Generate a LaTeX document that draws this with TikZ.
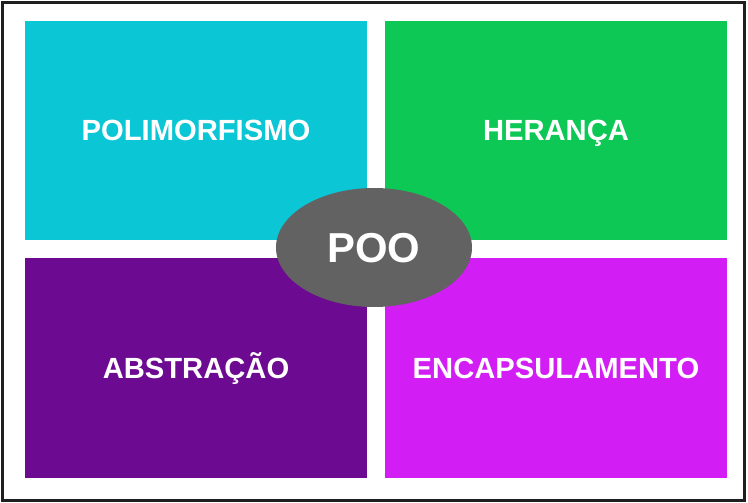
\documentclass[tikz,border=0pt]{standalone}
\usepackage{fontspec}
\setmainfont{Liberation Sans}
\usetikzlibrary{shapes.geometric}
\definecolor{ccyan}{RGB}{11,198,212}
\definecolor{cgreen}{RGB}{14,200,86}
\definecolor{cpurple}{RGB}{108,10,145}
\definecolor{cmagenta}{RGB}{210,30,245}
\definecolor{cgray}{RGB}{98,98,98}
\tikzset{
  quad/.style={draw=none, minimum width=342bp, minimum height=219bp, inner sep=0pt,
    text height=21bp, text depth=0pt,
    text=white, font=\fontsize{29.3}{32}\selectfont\bfseries},
}
\begin{document}
\begin{tikzpicture}[x=1bp,y=-1bp]
\useasboundingbox (0,0) rectangle (748,503);
\fill[white] (0,0) rectangle (748,503);
\draw[line width=3bp, draw=black!88] (2.5,2.5) rectangle (744.5,500);
\node[quad, fill=ccyan] (pol) at (196,130.5) {POLIMORFISMO};
\node[quad, fill=cgreen] (her) at (556,130.5) {HERANÇA};
\node[quad, fill=cpurple] (abs) at (196,368) {ABSTRAÇÃO};
\node[quad, fill=cmagenta] (enc) at (556,368) {ENCAPSULAMENTO};
\node[ellipse, fill=cgray, minimum width=196bp, minimum height=119bp, inner sep=0pt,
  text height=30bp, text depth=0pt,
  text=white, font=\fontsize{42}{46}\selectfont\bfseries] (poo) at (374,247.5) {POO};
\end{tikzpicture}
\end{document}
